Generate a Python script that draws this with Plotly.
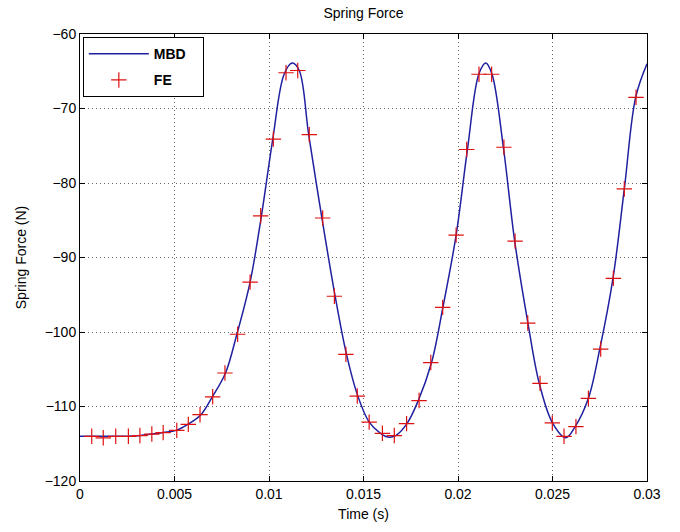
import plotly.graph_objects as go

# MBD curve
mbd_t = [0, 0.0006, 0.0012, 0.0019, 0.0025, 0.0032, 0.0038, 0.0044, 0.0051, 0.0057,
         0.0064, 0.0070, 0.0077, 0.0083, 0.0090, 0.0096, 0.0102, 0.0108, 0.01123, 0.0116,
         0.0121, 0.0128, 0.0135, 0.0141, 0.0147, 0.0153, 0.0159, 0.0163, 0.0167, 0.0173,
         0.0179, 0.0186, 0.0192, 0.0199, 0.0205, 0.0211, 0.02147, 0.0218, 0.0224, 0.0230,
         0.0237, 0.0243, 0.0250, 0.0257, 0.0262, 0.0269, 0.0275, 0.0282, 0.0288, 0.0294,
         0.0300]
mbd_f = [-114.0, -114.0, -114.0, -114.0, -114.0, -113.9, -113.7, -113.5, -113.2, -112.4,
         -111.1, -108.7, -105.5, -100.3, -93.3, -84.4, -74.1, -65.4, -63.9, -64.9,
         -73.5, -84.7, -95.2, -103.0, -108.6, -112.1, -113.6, -114.1, -113.9, -112.3,
         -109.2, -104.1, -96.7, -87.0, -75.5, -65.4, -63.9, -65.4, -75.2, -87.8,
         -98.8, -106.9, -112.2, -114.2, -112.7, -108.9, -102.3, -92.8, -80.8, -68.5,
         -64.0]

# FE points
fe_t = [0.00062, 0.00123, 0.00189, 0.00256, 0.00317, 0.0038, 0.0044, 0.00512, 0.00573, 0.00635,
        0.00702, 0.00767, 0.00834, 0.0090, 0.00956, 0.01023, 0.0109, 0.01152, 0.01213, 0.01284,
        0.01346, 0.01407, 0.01467, 0.0153, 0.0160, 0.01663, 0.01728, 0.01794, 0.01856, 0.01919,
        0.0199, 0.02046, 0.02111, 0.02178, 0.02243, 0.02302, 0.02369, 0.02434, 0.02499, 0.02561,
        0.02624, 0.0269, 0.02755, 0.02822, 0.0288, 0.02942]
fe_f = [-114.0, -114.2, -114.0, -114.0, -113.9, -113.7, -113.5, -113.2, -112.4, -111.1,
        -108.7, -105.5, -100.3, -93.3, -84.4, -74.1, -65.2, -64.9, -73.5, -84.7,
        -95.2, -103.0, -108.6, -112.1, -113.6, -113.9, -112.3, -109.2, -104.1, -96.7,
        -87.0, -75.5, -65.4, -65.4, -75.2, -87.8, -98.8, -106.9, -112.2, -114.0,
        -112.7, -108.9, -102.3, -92.8, -80.8, -68.5]

x_ticks = [0, 0.005, 0.01, 0.015, 0.02, 0.025, 0.03]
x_tick_labels = ["0", "0.005", "0.01", "0.015", "0.02", "0.025", "0.03"]
y_ticks = [-120, -110, -100, -90, -80, -70, -60]

font_family = "Liberation Sans Narrow, Liberation Sans, Arial, sans-serif"

fig = go.Figure()
fig.add_trace(go.Scatter(x=mbd_t, y=mbd_f, mode="lines", name="MBD   ", legendgroup="a",
                         line=dict(color="#2020a0", width=1.5, shape="spline", smoothing=1.0)))
fig.add_trace(go.Scatter(x=fe_t, y=fe_f, mode="markers", name="FE", legendgroup="b",
                         marker=dict(symbol="cross-thin-open", size=11,
                                     line=dict(color="#e01010", width=1.2), color="#e01010")))

axis_common = dict(showline=True, linecolor="black", linewidth=1, mirror="allticks",
                   ticks="inside", ticklen=5, tickcolor="black",
                   showgrid=True, gridcolor="rgba(0,0,0,0.6)", gridwidth=1, griddash="1px,3px",
                   zeroline=False, tickfont=dict(family=font_family, size=14, color="black"))

fig.update_layout(
    width=680, height=532,
    margin=dict(l=80, r=33, t=34, b=51),
    paper_bgcolor="white", plot_bgcolor="white",
    title=dict(text="Spring Force", x=0.5, xref="paper", y=0.985, yanchor="top",
               font=dict(family=font_family, size=14, color="black")),
    xaxis=dict(range=[0, 0.03], tickvals=x_ticks, ticktext=x_tick_labels,
               title=dict(text="Time (s)", standoff=8,
                          font=dict(family=font_family, size=14, color="black")),
               **axis_common),
    yaxis=dict(range=[-120, -60], tickvals=y_ticks,
               title=dict(text="Spring Force (N)", standoff=14,
                          font=dict(family=font_family, size=14, color="black")),
               **axis_common),
    legend=dict(x=0.005, y=0.993, xanchor="left", yanchor="top",
                bgcolor="white", bordercolor="black", borderwidth=1,
                itemwidth=60, traceorder="grouped", tracegroupgap=5,
                font=dict(family="Liberation Sans, Arial, sans-serif", size=14, color="black",
                          weight="bold")),
    showlegend=True,
)

fig.write_html("out.html")
